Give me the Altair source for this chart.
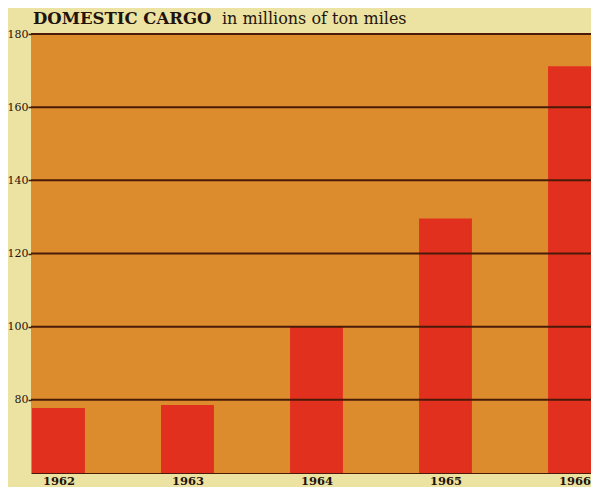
import altair as alt
import pandas as pd

years = [1962, 1963, 1964, 1965, 1966]
cargo = [77.8, 78.6, 100.0, 129.6, 171.2]
y_ticks = [80, 100, 120, 140, 160, 180]

df = pd.DataFrame({"year": years, "cargo": cargo})

BG = "#ECE2A2"
ORANGE = "#DC8C2C"
RED = "#E2301F"
GRID = "#4A1A08"
TEXT = "#1E140C"

xscale = alt.Scale(domain=[1961.787, 1966.128], nice=False, zero=False)
yscale = alt.Scale(domain=[60, 180], nice=False, zero=False)

bars = alt.Chart(df).transform_calculate(
    x0="datum.year - 0.205", x1="datum.year + 0.205", base="60"
).mark_bar(color=RED, clip=True).encode(
    x=alt.X("x0:Q", scale=xscale,
            axis=alt.Axis(values=years, format="d", title=None, grid=False, ticks=False,
                          domain=True, domainColor=GRID, domainWidth=1,
                          labelFont="DejaVu Serif", labelFontWeight="bold",
                          labelFontSize=11.5, labelColor=TEXT, labelPadding=11,
                          labelBaseline="alphabetic", labelFlush=False)),
    x2="x1:Q",
    y=alt.Y("cargo:Q", scale=yscale,
            axis=alt.Axis(values=y_ticks, title=None, grid=False, domain=False,
                          tickColor=GRID, tickSize=3, tickWidth=1.5,
                          labelFont="DejaVu Serif", labelFontSize=11,
                          labelColor=TEXT, labelPadding=0)),
    y2="base:Q",
)

grid = alt.Chart(pd.DataFrame({"v": y_ticks})).mark_rule(color=GRID, strokeWidth=2).encode(
    y=alt.Y("v:Q", scale=yscale)
)

title1 = alt.Chart(pd.DataFrame({"t": ["DOMESTIC CARGO"]})).mark_text(
    align="left", baseline="alphabetic", font="DejaVu Serif", fontWeight="bold",
    fontSize=16.5, color=TEXT
).encode(x=alt.value(2), y=alt.value(-10), text="t:N")

title2 = alt.Chart(pd.DataFrame({"t": ["in millions of ton miles"]})).mark_text(
    align="left", baseline="alphabetic", font="DejaVu Serif",
    fontSize=16, color=TEXT
).encode(x=alt.value(191), y=alt.value(-10), text="t:N")

chart = alt.layer(bars, grid, title1, title2).properties(
    width=560, height=439,
    autosize=alt.AutoSizeParams(type="none"),
    padding={"left": 23, "top": 26, "right": 0, "bottom": 14},
    background=BG,
).configure_view(fill=ORANGE, stroke=None)

chart.save("out.html", embed_options={"renderer": "svg", "actions": False})
